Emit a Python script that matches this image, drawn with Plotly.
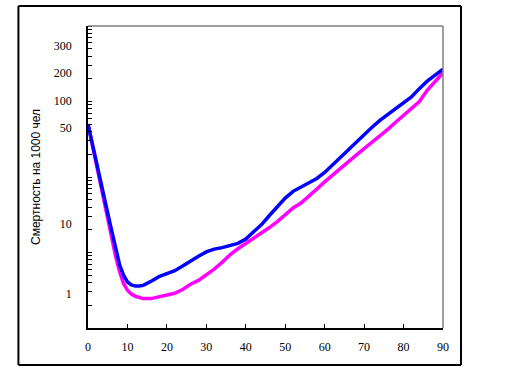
import plotly.graph_objects as go

# Ages (years)
ages = [0, 1, 2, 3, 4, 5, 6, 7, 8, 9, 10, 11, 12, 13, 14, 16, 18, 20, 22, 24,
        26, 28, 30, 32, 34, 36, 38, 40, 42, 44, 46, 48, 50, 52, 54, 56, 58, 60,
        62, 64, 66, 68, 70, 72, 74, 76, 78, 80, 82, 84, 86, 88, 90]

# Mortality per 1000, blue series
blue_vals = [50.1, 28.8, 15.8, 8.91, 5.50, 3.31, 1.95, 1.12, 0.692, 0.501, 0.407,
             0.372, 0.359, 0.359, 0.367, 0.417, 0.479, 0.525, 0.575, 0.661,
             0.776, 0.891, 1.02, 1.11, 1.16, 1.23, 1.32, 1.51, 1.86, 2.34, 3.09,
             4.07, 5.25, 6.46, 7.41, 8.32, 9.55, 11.5, 14.5, 18.2, 23.4, 29.5,
             37.6, 45.7, 56.2, 67.6, 80.4, 95.5, 115, 148, 186, 224, 269]

# Mortality per 1000, magenta series
magenta_vals = [50.1, 28.2, 15.5, 8.51, 4.79, 2.82, 1.55, 0.891, 0.562, 0.389,
                0.316, 0.282, 0.263, 0.251, 0.245, 0.245, 0.257, 0.269, 0.288,
                0.324, 0.380, 0.427, 0.501, 0.603, 0.741, 0.933, 1.12, 1.32, 1.51,
                1.78, 2.14, 2.57, 3.16, 3.89, 4.52, 5.50, 6.92, 8.61, 10.6, 13.2,
                16.2, 19.5, 23.7, 28.8, 34.7, 42.7, 53.1, 65.3, 80.4, 100, 141,
                186, 240]

# Y tick labels as drawn in the original (placed at these axis values)
y_label_text = ["300", "200", "100", "50", "10", "1"]
y_label_vals = [548, 238, 102.5, 44.2, 2.38, 0.288]

x_tick_vals = [0, 10, 20, 30, 40, 50, 60, 70, 80, 90]

y_title = "Смертность на 1000 чел"

minor_vals = [m * 10 ** e for e in range(-1, 3) for m in range(1, 10)] + [1000]

fig = go.Figure()
fig.add_trace(go.Scatter(x=ages, y=magenta_vals, mode="lines",
                         line=dict(color="#FF00FF", width=3.5), showlegend=False))
fig.add_trace(go.Scatter(x=ages, y=blue_vals, mode="lines",
                         line=dict(color="#0000FF", width=3.5), showlegend=False))

tick_font = dict(family="Liberation Serif, Times New Roman, serif", size=12, color="black")

fx0, fx1, fy0, fy1 = -0.196, 1.0507, -0.1225, 1.066
frame = dict(type="line", xref="paper", yref="paper", layer="above",
             line=dict(color="black", width=2))

fig.update_layout(
    width=515, height=390,
    margin=dict(l=88, r=72, t=26, b=62),
    paper_bgcolor="white", plot_bgcolor="white",
    xaxis=dict(range=[0, 90], tickvals=x_tick_vals, ticks="inside", ticklen=4,
               tickcolor="black", showline=True, linecolor="black", linewidth=1.5,
               showgrid=False, zeroline=False, tickfont=tick_font,
               ticklabelstandoff=7),
    yaxis=dict(type="log", range=[-1, 3], tickvals=y_label_vals, ticktext=y_label_text,
               ticks="", showline=True, linecolor="black", linewidth=1.5,
               showgrid=False, zeroline=False, tickfont=tick_font,
               ticklabelstandoff=12,
               minor=dict(tickmode="array", tickvals=minor_vals, ticks="inside",
                          ticklen=4, tickcolor="black", showgrid=False)),
    shapes=[
        dict(type="line", xref="paper", yref="paper", x0=0, x1=1, y0=1, y1=1,
             layer="above", line=dict(color="#808080", width=1.5)),
        dict(type="line", xref="paper", yref="paper", x0=1, x1=1, y0=0, y1=1,
             layer="above", line=dict(color="#808080", width=1.5)),
        dict(frame, x0=fx0, x1=fx1, y0=fy1, y1=fy1),
        dict(frame, x0=fx0, x1=fx1, y0=fy0, y1=fy0),
        dict(frame, x0=fx0, x1=fx0, y0=fy0, y1=fy1),
        dict(frame, x0=fx1, x1=fx1, y0=fy0, y1=fy1),
    ],
    annotations=[
        dict(text=y_title, xref="paper", yref="paper", x=-0.1465, y=0.5,
             xanchor="center", yanchor="middle", textangle=-90, showarrow=False,
             font=dict(family="Liberation Sans, Arial, sans-serif", size=12, color="black")),
    ],
)

fig.write_html("out.html", config={"displayModeBar": False},
               post_script="document.body.style.margin='0';")
